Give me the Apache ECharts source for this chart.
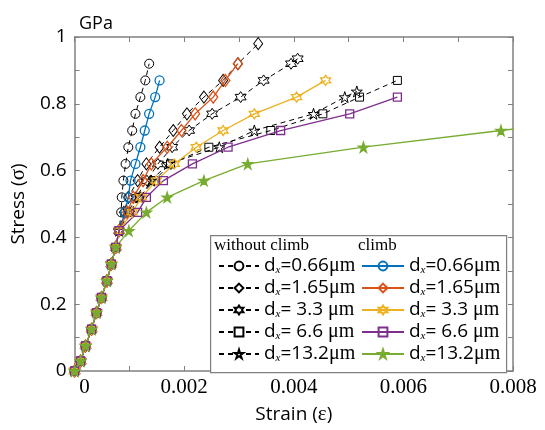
<!DOCTYPE html>
<html><head><meta charset="utf-8">
<script src="https://cdn.jsdelivr.net/npm/echarts@6/dist/echarts.min.js"></script>
<style>html,body{margin:0;padding:0;background:#fff}#c{width:545px;height:430px}</style>
</head><body><div id="c"></div>
<script>
// Shared elastic branch (strain, stress in GPa)
const elasticStrain = [0, 0.00011, 0.00020, 0.00031, 0.00040, 0.00049, 0.00059, 0.00067, 0.00075, 0.00081];
const elasticStress = [0, 0.03, 0.075, 0.125, 0.175, 0.22, 0.27, 0.32, 0.37, 0.42];

// without climb
const wc066Strain = [0.00085,0.00086,0.00089,0.00093,0.00098,0.00105,0.00111,0.0012,0.00129,0.00136];
const wc066Stress = [0.475,0.52,0.57,0.62,0.67,0.72,0.77,0.82,0.87,0.92];
const wc165Strain = [0.0009,0.00098,0.00115,0.00131,0.00155,0.0018,0.00205,0.00236,0.00271,0.00298,0.00335];
const wc165Stress = [0.475,0.52,0.57,0.62,0.67,0.72,0.77,0.82,0.87,0.92,0.98];
const wc33Strain = [0.00098,0.00112,0.00132,0.00152,0.00178,0.00209,0.00251,0.00303,0.00345,0.00395,0.00407];
const wc33Stress = [0.475,0.52,0.57,0.62,0.67,0.72,0.77,0.82,0.87,0.92,0.935];
const wc66Strain = [0.001,0.00118,0.00145,0.00175,0.00245,0.00358,0.00453,0.0052,0.00589];
const wc66Stress = [0.475,0.52,0.57,0.62,0.67,0.72,0.77,0.82,0.87];
const wc132Strain = [0.001,0.0012,0.0014,0.0017,0.00264,0.00328,0.00436,0.00493,0.00515];
const wc132Stress = [0.475,0.52,0.57,0.62,0.67,0.72,0.77,0.82,0.837];

// climb
const c066Strain = [0.00092,0.00098,0.00102,0.00111,0.0012,0.00128,0.00136,0.00147,0.00155];
const c066Stress = [0.475,0.52,0.57,0.62,0.67,0.72,0.77,0.82,0.87];
const c165Strain = [0.00096,0.00107,0.00125,0.0014,0.00169,0.00195,0.0022,0.00253,0.00275,0.00298];
const c165Stress = [0.475,0.52,0.57,0.62,0.67,0.72,0.77,0.82,0.87,0.92];
const c33Strain = [0.00105,0.00122,0.00149,0.00182,0.00222,0.00271,0.00328,0.00405,0.00458];
const c33Stress = [0.475,0.52,0.57,0.62,0.67,0.72,0.77,0.82,0.87];
const c66Strain = [0.00115,0.00131,0.00162,0.00215,0.0028,0.00376,0.00502,0.00589];
const c66Stress = [0.475,0.52,0.57,0.62,0.67,0.72,0.77,0.82];
// green diverges already at 0.42
const c132Strain = [0.00099,0.00131,0.00169,0.00236,0.00316,0.00527,0.00778,0.0104];
const c132Stress = [0.42,0.475,0.52,0.57,0.62,0.67,0.72,0.77];

const sizeLabels = ['0.66', '1.65', ' 3.3 ', ' 6.6 ', '13.2'];
const xTicks = [0, 0.002, 0.004, 0.006, 0.008];
const yTicks = [0, 0.2, 0.4, 0.6, 0.8, 1];

const pentagram = 'path://M0 -1 L0.2245 -0.309 L0.951 -0.309 L0.363 0.118 L0.588 0.809 L0 0.382 L-0.588 0.809 L-0.363 0.118 L-0.951 -0.309 L-0.2245 -0.309 Z';
const hexagram = 'path://M0 -1 L0.289 -0.5 L0.866 -0.5 L0.577 0 L0.866 0.5 L0.289 0.5 L0 1 L-0.289 0.5 L-0.866 0.5 L-0.577 0 L-0.866 -0.5 L-0.289 -0.5 Z';

function pts(sx, sy, nElastic) {
  const out = [];
  const n = nElastic === undefined ? elasticStrain.length : nElastic;
  for (let i = 0; i < n; i++) out.push([elasticStrain[i], elasticStress[i]]);
  for (let i = 0; i < sx.length; i++) out.push([sx[i], sy[i]]);
  return out;
}

const wcNames = sizeLabels.map(s => 'without climb d=' + s + 'μm');
const cNames = sizeLabels.map(s => 'climb d=' + s + 'μm');

function wcSeries(i, sx, sy, symbol, size) {
  return {
    name: wcNames[i], type: 'line', data: pts(sx, sy), symbol: symbol, symbolSize: size,
    lineStyle: { color: '#000', width: 1, type: [5, 4] },
    itemStyle: { color: 'rgba(255,255,255,0)', borderColor: '#000', borderWidth: 1 },
    emphasis: { disabled: true }, z: 2
  };
}
function cSeries(i, data, color, symbol, size, filled) {
  return {
    name: cNames[i], type: 'line', data: data, symbol: symbol, symbolSize: size,
    lineStyle: { color: color, width: 1.3, type: 'solid' },
    itemStyle: { color: filled ? color : 'rgba(255,255,255,0)', borderColor: color, borderWidth: 1.3 },
    emphasis: { disabled: true }, z: 3
  };
}

const series = [
  wcSeries(0, wc066Strain, wc066Stress, 'circle', 9),
  wcSeries(1, wc165Strain, wc165Stress, 'diamond', [9, 12]),
  wcSeries(2, wc33Strain, wc33Stress, hexagram, 11),
  wcSeries(3, wc66Strain, wc66Stress, 'rect', 8),
  wcSeries(4, wc132Strain, wc132Stress, pentagram, 11),
  cSeries(0, pts(c066Strain, c066Stress), '#0072BD', 'circle', 9, false),
  cSeries(1, pts(c165Strain, c165Stress), '#D95319', 'diamond', [9, 12], false),
  cSeries(2, pts(c33Strain, c33Stress), '#EDB120', hexagram, 10, false),
  cSeries(3, pts(c66Strain, c66Stress), '#7E2F8E', 'rect', 8, false),
  cSeries(4, pts(c132Strain, c132Stress, 9), '#77AC30', pentagram, 10, true)
];

const rich = {
  d: { fontFamily: 'Open Sans', fontSize: 19, color: '#000', lineHeight: 22 },
  s: { fontFamily: 'Liberation Serif', fontStyle: 'italic', fontSize: 11, color: '#000', padding: [9, 0, 0, 0], lineHeight: 22 },
  n: { fontFamily: 'Open Sans', fontSize: 19, color: '#000', lineHeight: 22 },
  u: { fontFamily: 'Liberation Serif', fontSize: 20, color: '#000', lineHeight: 22 }
};
function legendFmt(name) {
  const v = name.split('=')[1].replace('μm', '');
  return '{d|d}{s|x}{n|=' + v + '}{u|μm}';
}

const axisLineStyle = { color: '#808080', width: 1.5 };
const tickStyle = { show: true, inside: true, length: 5, lineStyle: { color: '#808080', width: 1 } };
const minorTickStyle = { show: true, splitNumber: 2, length: 5, lineStyle: { color: '#808080', width: 1 } };
const nameRich = {
  a: { fontFamily: 'Open Sans', fontSize: 19, color: '#000' },
  b: { fontFamily: 'Liberation Serif', fontSize: 21, color: '#000' }
};

const option = {
  animation: false,
  backgroundColor: '#fff',
  title: { text: 'GPa', left: 74, top: 10, textStyle: { fontFamily: 'Open Sans', fontSize: 18, fontWeight: 'normal', color: '#000' } },
  grid: { left: 73, right: 32, top: 37, bottom: 48, containLabel: false },
  xAxis: [{
    type: 'value', min: xTicks[0], max: xTicks[xTicks.length - 1], interval: xTicks[1] - xTicks[0],
    position: 'bottom',
    axisLine: { show: true, onZero: false, lineStyle: axisLineStyle },
    axisTick: tickStyle, minorTick: minorTickStyle, splitLine: { show: false },
    axisLabel: {
      fontFamily: 'Liberation Serif', fontSize: 21, color: '#000', margin: 6,
      formatter: v => (v === 0 ? '{z|0}' : String(v)),
      rich: { z: { fontFamily: 'Liberation Serif', fontSize: 21, color: '#000', padding: [0, 0, 0, 20] } }
    },
    name: '{a|Strain (}{b|ε}{a|)}', nameLocation: 'middle', nameGap: 33,
    nameTextStyle: { rich: nameRich }
  }, {
    type: 'value', min: xTicks[0], max: xTicks[xTicks.length - 1], interval: xTicks[1] - xTicks[0],
    position: 'top',
    axisLine: { show: true, onZero: false, lineStyle: axisLineStyle },
    axisTick: tickStyle, minorTick: minorTickStyle, splitLine: { show: false },
    axisLabel: { show: false }
  }],
  yAxis: [{
    type: 'value', min: yTicks[0], max: yTicks[yTicks.length - 1], interval: yTicks[1] - yTicks[0],
    position: 'left',
    axisLine: { show: true, onZero: false, lineStyle: axisLineStyle },
    axisTick: tickStyle, minorTick: minorTickStyle, splitLine: { show: false },
    axisLabel: { fontFamily: 'Open Sans', fontSize: 19, color: '#000', margin: 8 },
    name: '{a|Stress (}{b|σ}{a|)}', nameLocation: 'middle', nameGap: 42, nameRotate: 90,
    nameTextStyle: { rich: nameRich }
  }, {
    type: 'value', min: yTicks[0], max: yTicks[yTicks.length - 1], interval: yTicks[1] - yTicks[0],
    position: 'right',
    axisLine: { show: true, onZero: false, lineStyle: axisLineStyle },
    axisTick: tickStyle, minorTick: minorTickStyle, splitLine: { show: false },
    axisLabel: { show: false }
  }],
  graphic: [
    { type: 'rect', left: 210, top: 235, z: 50, shape: { width: 296, height: 137 },
      style: { fill: '#fff', stroke: '#7f7f7f', lineWidth: 1.2 } },
    { type: 'text', left: 214, top: 237, z: 51,
      style: { text: 'without climb', fontFamily: 'Liberation Serif', fontSize: 17, fill: '#000' } },
    { type: 'text', left: 358, top: 237, z: 51,
      style: { text: 'climb', fontFamily: 'Liberation Serif', fontSize: 17, fill: '#000' } }
  ],
  legend: [{
    data: wcNames, orient: 'vertical', left: 213, top: 251, itemWidth: 40, itemHeight: 11, itemGap: 2,
    formatter: legendFmt, textStyle: { rich: rich }, z: 60, selectedMode: false,
    itemStyle: { color: '#fff' }
  }, {
    data: cNames, orient: 'vertical', left: 356, top: 251, itemWidth: 42, itemHeight: 11, itemGap: 2,
    formatter: legendFmt, textStyle: { rich: rich }, z: 60, selectedMode: false
  }],
  series: series
};

const chart = echarts.init(document.getElementById('c'), null, { renderer: 'canvas' });
chart.setOption(option);
</script>
</body></html>
